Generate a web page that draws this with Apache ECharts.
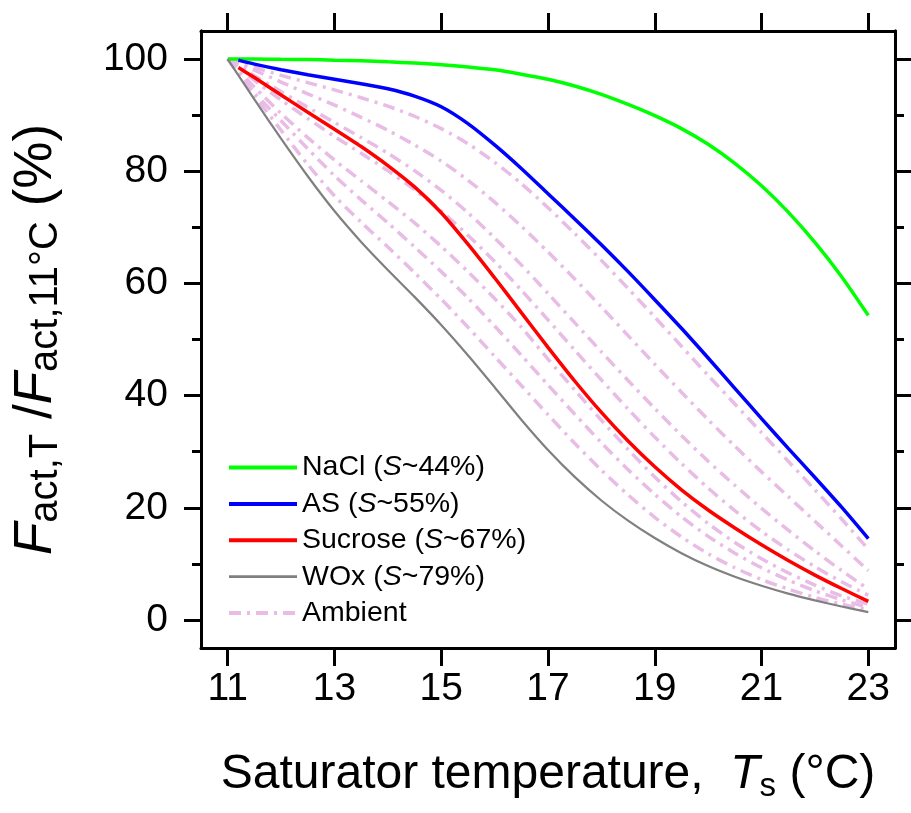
<!DOCTYPE html>
<html><head><meta charset="utf-8">
<script src="https://cdn.jsdelivr.net/npm/echarts@6/dist/echarts.min.js"></script>
<style>html,body{margin:0;padding:0;background:#fff}#c{width:911px;height:813px}</style>
</head><body><div id="c"></div>
<script>
// ---- data ----
const tFull = [11,11.5,12,12.5,13,13.5,14,14.5,15,15.5,16,16.5,17,17.5,18,18.5,19,19.5,20,20.5,21,21.5,22,22.5,23];
const tLate = [11.2,11.5,12,12.5,13,13.5,14,14.5,15,15.5,16,16.5,17,17.5,18,18.5,19,19.5,20,20.5,21,21.5,22,22.5,23];
const naclValues = [100,100,99.95,99.9,99.8,99.7,99.5,99.3,99,98.6,98.1,97.3,96.4,95.2,93.7,91.9,89.9,87.6,84.8,81.4,77.4,72.7,67.3,61.2,54.3];
const asValues = [99.8,99.1,98.1,97.2,96.4,95.6,94.7,93.4,91.5,88.5,84.7,80.5,76,71.5,66.9,62.1,57.1,52,46.7,41.3,35.9,30.6,25.4,20.1,14.5];
const sucroseValues = [98.5,96.7,93.6,90.5,87.5,84.4,81,77.2,72.6,67,61,54.8,48.6,42.6,37,31.9,27.3,23.2,19.6,16.4,13.4,10.6,8,5.6,3.3];
const woxValues = [100,92.8,85.8,79.1,72.9,67.4,62.4,57.6,52.6,47.2,41.5,35.7,30.3,25.5,21.3,17.7,14.6,11.9,9.6,7.7,6.1,4.7,3.5,2.4,1.4];
const ambient1 = [100,98.5,97.1,95.8,94.5,93.1,91.6,89.8,87.6,84.9,81.6,77.8,73.5,68.9,64.1,59.1,54,48.8,43.6,38.5,33.4,28.3,23.2,18,12.6];
const ambient2 = [100,98,95.9,93.8,91.8,89.6,87.3,84.7,81.8,78.4,74.5,70.2,65.6,60.8,55.8,50.7,45.6,40.6,35.7,31,26.4,22,17.6,13.2,8.8];
const ambient3 = [100,97,94.2,91.4,88.7,86,83.2,80.1,76.6,72.6,68.1,63.3,58.2,53,47.8,42.7,37.7,32.9,28.3,24,19.9,16,12.3,8.8,5.5];
const ambient4 = [100,96.2,92.7,89.4,86.2,83.2,80.1,76.7,72.9,68.6,63.9,58.8,53.5,48.1,42.8,37.6,32.6,27.9,23.5,19.5,15.8,12.5,9.5,6.8,4.4];
const ambient5 = [100,95,90.3,86,82,78.3,74.6,70.8,66.6,62.1,57.3,52.2,46.5,41,35.6,30.4,25.5,21.1,17.2,13.8,10.9,8.4,6.2,4.3,2.8];
const ambient6 = [100,94,89,84,79.2,74.9,70.8,66.5,62.1,57.4,52.4,47.2,41.9,36.7,31.6,26.8,22.4,18.4,14.9,11.9,9.3,7.1,5.2,3.6,2.2];
const ambient7 = [100,93.5,87.3,81.2,75.6,70.9,66.5,61.9,57.2,52.2,47,41.8,36.6,31.5,26.7,22.3,18.3,14.8,11.8,9.3,7.2,5.5,4,2.8,1.8];
const ambientSets = [ambient1,ambient2,ambient3,ambient4,ambient5,ambient6,ambient7];
const xTickValues = [11,13,15,17,19,21,23];
const yTickValues = [0,20,40,60,80,100];
const yMinorTickValues = [10,30,50,70,90];
const seriesNames = ['NaCl','AS','Sucrose','WOx','Ambient'];
const sLabels = ['44','55','67','79'];

// ---- helpers ----
const pair = (xs, ys) => ys.map((v, i) => [xs[i], v]);
const FONT = 'Liberation Sans';
const legendText = {};
seriesNames.forEach((n, i) => {
  legendText[n] = i < sLabels.length ? n + ' ({i|S}~' + sLabels[i] + '%)' : n;
});

const lineColor = '#000';
function xAx(pos, showLabel) {
  return {
    type: 'value', position: pos, min: 10.5, max: 23.5,
    axisLine: {show: true, onZero: false, lineStyle: {color: lineColor, width: 3}},
    axisTick: {show: true, inside: false, length: 18, customValues: xTickValues, lineStyle: {color: lineColor, width: 3}},
    axisLabel: {show: showLabel, customValues: xTickValues, fontSize: 39, color: '#000', fontFamily: FONT, margin: 22},
    splitLine: {show: false}
  };
}
function yAx(pos, ticks, len, showLabel) {
  return {
    type: 'value', position: pos, min: -5, max: 105,
    axisLine: {show: true, onZero: false, lineStyle: {color: lineColor, width: 3}},
    axisTick: {show: true, inside: false, length: len, customValues: ticks, lineStyle: {color: lineColor, width: 3}},
    axisLabel: {show: showLabel, customValues: ticks, fontSize: 39, color: '#000', fontFamily: FONT, margin: 33},
    splitLine: {show: false}
  };
}

const xMain = xAx('bottom', true);
xMain.name = '{n|Saturator temperature,  }{i|T}{s|s}{n| (°C)}';
xMain.nameLocation = 'middle';
xMain.nameGap = 99;
xMain.nameTextStyle = {
  fontSize: 48, fontFamily: FONT, color: '#000',
  rich: {
    n: {fontSize: 48, fontFamily: FONT, color: '#000', lineHeight: 56},
    i: {fontSize: 48, fontFamily: FONT, color: '#000', fontStyle: 'italic', lineHeight: 56},
    s: {fontSize: 33, fontFamily: FONT, color: '#000', verticalAlign: 'bottom', lineHeight: 14}
  }
};
const yMain = yAx('left', yTickValues, 17, true);
yMain.name = '{i|F}{s|act,T}{n| /}{i|F}{s|act,11°C}{n| (%)}';
yMain.nameLocation = 'middle';
yMain.nameGap = 135;
yMain.nameTextStyle = {
  fontSize: 53, fontFamily: FONT, color: '#000',
  rich: {
    n: {fontSize: 53, fontFamily: FONT, color: '#000', lineHeight: 60},
    i: {fontSize: 53, fontFamily: FONT, color: '#000', fontStyle: 'italic', lineHeight: 60},
    s: {fontSize: 40, fontFamily: FONT, color: '#000', verticalAlign: 'bottom', lineHeight: 16}
  }
};

const colors = {NaCl: '#00ff00', AS: '#0000ff', Sucrose: '#ff0000', WOx: '#808080', Ambient: '#e8bce5'};
const widths = {NaCl: 3.5, AS: 3.5, Sucrose: 3.5, WOx: 2.2, Ambient: 3.5};
const ambientDash = [12, 6, 3, 6];

const series = [];
ambientSets.forEach(a => series.push({
  name: 'Ambient', type: 'line', data: pair(tFull, a), showSymbol: false, symbol: 'none', smooth: 0.25,
  lineStyle: {color: colors.Ambient, width: widths.Ambient, type: ambientDash}, itemStyle: {color: colors.Ambient}, z: 2
}));
[['NaCl', tFull, naclValues], ['AS', tLate, asValues], ['Sucrose', tLate, sucroseValues], ['WOx', tFull, woxValues]].forEach(s => {
  series.push({name: s[0], type: 'line', data: pair(s[1], s[2]), symbol: 'none', smooth: 0.25,
    lineStyle: {color: colors[s[0]], width: widths[s[0]]}, itemStyle: {color: colors[s[0]]}, z: 3});
});

const chart = echarts.init(document.getElementById('c'), null, {renderer: 'canvas'});
chart.setOption({
  animation: false,
  backgroundColor: '#fff',
  grid: {left: 201, right: 16, top: 31, bottom: 165, containLabel: false},
  xAxis: [xMain, xAx('top', false)],
  yAxis: [yMain, yAx('left', yMinorTickValues, 9, false), yAx('right', yTickValues, 17, false), yAx('right', yMinorTickValues, 9, false)],
  legend: {
    data: seriesNames.map(n => ({name: n, lineStyle: {width: widths[n] + 0.5, color: colors[n], type: n === 'Ambient' ? ambientDash : 'solid'}})),
    orient: 'vertical', left: 227, top: 453, padding: 0,
    itemWidth: 68, itemHeight: 28, itemGap: 7.4,
    itemStyle: {opacity: 0},
    textStyle: {fontSize: 28.5, fontFamily: FONT, color: '#000', lineHeight: 28,
      rich: {i: {fontSize: 28.5, fontFamily: FONT, color: '#000', fontStyle: 'italic', lineHeight: 28}}},
    formatter: n => legendText[n]
  },
  series: series
});
</script></body></html>
